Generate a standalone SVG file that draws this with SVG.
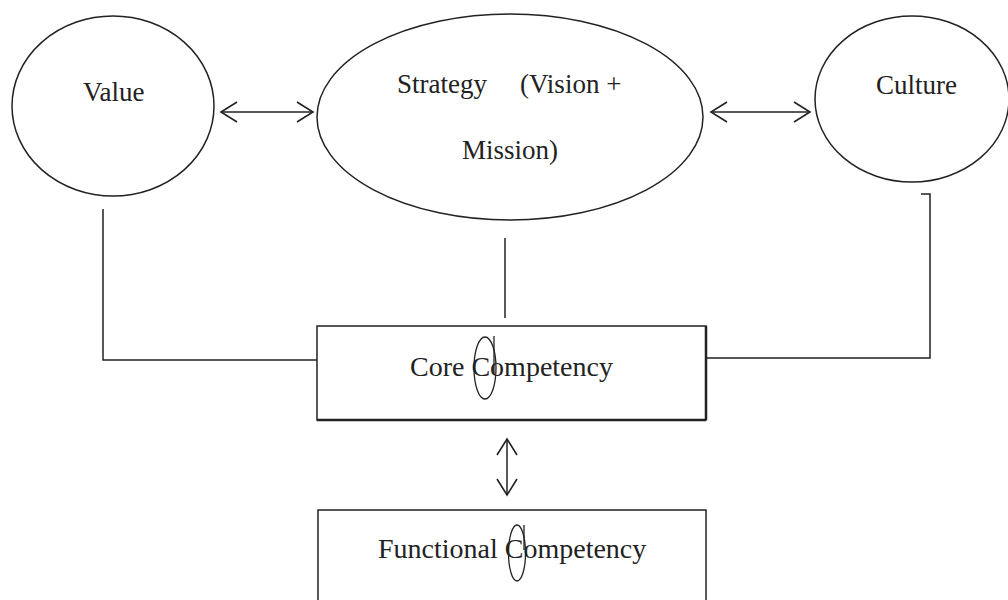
<svg xmlns="http://www.w3.org/2000/svg" width="1008" height="600" viewBox="0 0 1008 600">
<defs>
<marker id="open" viewBox="-17 -12 19 24" markerWidth="19" markerHeight="24" refX="0" refY="0" orient="auto-start-reverse" markerUnits="userSpaceOnUse">
<path d="M-16,-10 L0,0 L-16,10" fill="none" stroke="#222" stroke-width="1.6"/>
</marker>
<style>
.shape{fill:#fff;stroke:#222;stroke-width:1.5}
.lbl{font-family:"Liberation Serif","Times New Roman",serif;font-size:27px;fill:#222}
.blbl{font-family:"Liberation Serif","Times New Roman",serif;font-size:28px;fill:#222}
.conn{fill:none;stroke:#222;stroke-width:1.5}
.mark{fill:none;stroke:#222;stroke-width:1.3}
</style>
</defs>
<rect width="1008" height="600" fill="#fff"/>
<g id="connectors">
<line class="conn" x1="221" y1="112" x2="313" y2="112" marker-start="url(#open)" marker-end="url(#open)"/>
<line class="conn" x1="711" y1="112" x2="810" y2="112" marker-start="url(#open)" marker-end="url(#open)"/>
<polyline class="conn" points="103,209 103,360 317,360"/>
<polyline class="conn" points="921,194 930,194 930,358 706,358"/>
<line class="conn" x1="505" y1="238" x2="505" y2="318"/>
<line class="conn" x1="507" y1="439" x2="507" y2="495" marker-start="url(#open)" marker-end="url(#open)"/>
</g>
<g id="value">
<ellipse class="shape" cx="113" cy="106" rx="101" ry="90"/>
<text class="lbl" x="83" y="101">Value</text>
</g>
<g id="strategy">
<ellipse class="shape" cx="510" cy="117" rx="193" ry="103"/>
<text class="lbl" y="93"><tspan x="397">Strategy</tspan><tspan x="520">(Vision +</tspan></text>
<text class="lbl" x="462" y="159">Mission)</text>
</g>
<g id="culture">
<ellipse class="shape" cx="912" cy="99" rx="97" ry="83"/>
<text class="lbl" x="876" y="94">Culture</text>
</g>
<g id="core">
<rect class="shape" x="317" y="326" width="389" height="94"/>
<line x1="317" y1="420" x2="706" y2="420" stroke="#222" stroke-width="2.5"/>
<line x1="706" y1="326" x2="706" y2="420" stroke="#222" stroke-width="2.5"/>
<text class="blbl" x="410" y="376">Core Competency</text>
<ellipse class="mark" cx="485" cy="368" rx="11" ry="31"/>
<line class="mark" x1="494" y1="336" x2="494" y2="374"/>
</g>
<g id="functional">
<rect class="shape" x="318" y="510" width="388" height="110"/>
<text class="blbl" x="378" y="558">Functional Competency</text>
<ellipse class="mark" cx="517" cy="553" rx="8.5" ry="28"/>
<line class="mark" x1="524" y1="525" x2="524" y2="550"/>
</g>
</svg>
